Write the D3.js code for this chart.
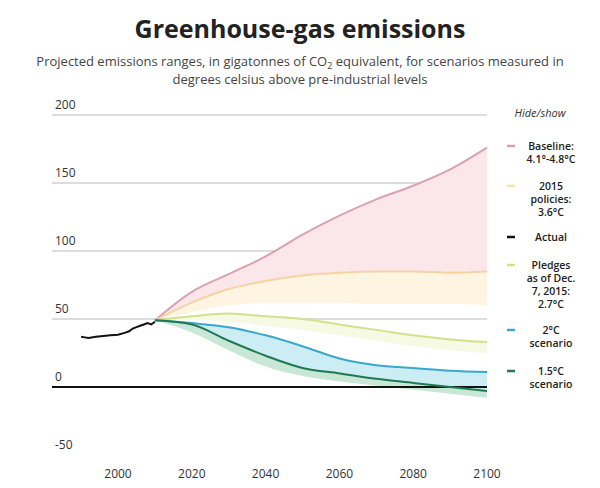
<!DOCTYPE html>
<html><head><meta charset="utf-8">
<script src="https://cdn.jsdelivr.net/npm/d3@7"></script>
<style>
body{margin:0;background:#fff;font-family:"Open Sans",sans-serif;}
</style></head><body>
<svg id="chart" width="600" height="488"></svg>
<script>
// data
const yearsProj = [2010, 2020, 2030, 2040, 2050, 2060, 2070, 2080, 2090, 2100];
const baseline     = [49, 70, 83, 96, 112, 126, 138, 148, 160, 176];
const policies     = [49, 62, 72, 78, 82, 84, 85, 85, 84, 85];
const policiesLow  = [49, 55, 60, 62, 62, 62, 61, 61, 61, 60];
const pledges      = [49, 52, 54, 52, 50, 46, 42, 38, 35, 33];
const pledgesLow   = [49, 49, 48, 45, 42, 38, 34, 30, 27, 25];
const twoDeg       = [49, 47, 44, 38, 30, 21, 16, 14, 12, 11];
const onePointFive = [49, 46, 34, 23, 14, 10, 6, 3, 0, -3];
const onePointFiveLow = [49, 40, 27, 15, 8, 4, 1, -2, -5, -8];
const actualYears  = [1990, 1991, 1992, 1994, 1996, 1998, 2000, 2002, 2003, 2004, 2005, 2006, 2007, 2008, 2009, 2010];
const actual       = [37, 36.5, 36, 37, 37.5, 38, 38.5, 40, 41, 43, 44, 45, 46, 47, 46, 48];
const yTicks = [200, 150, 100, 50, 0, -50];
const xTicks = [2000, 2020, 2040, 2060, 2080, 2100];
const legend = [
  {lines:["Baseline:","4.1°-4.8°C"], color:"#d7a3b4"},
  {lines:["2015","policies:","3.6°C"], color:"#f4e2a6"},
  {lines:["Actual"], color:"#111"},
  {lines:["Pledges","as of Dec.","7, 2015:","2.7°C"], color:"#d4e08a"},
  {lines:["2°C","scenario"], color:"#3aa8cc"},
  {lines:["1.5°C","scenario"], color:"#1f7a52"}
];

const svg = d3.select("#chart");
const x = d3.scaleLinear().domain([2000, 2100]).range([118, 487]);
const y = d3.scaleLinear().domain([0, 200]).range([387, 115]);

svg.append("text").attr("x", 300).attr("y", 38).attr("text-anchor", "middle")
  .attr("font-size", 25).attr("font-weight", 700).attr("fill", "#222").text("Greenhouse-gas emissions");
const sub = svg.append("text").attr("text-anchor", "middle").attr("font-size", 13).attr("fill", "#444");
const s1 = sub.append("tspan").attr("x", 300).attr("y", 66);
s1.append("tspan").text("Projected emissions ranges, in gigatonnes of CO");
s1.append("tspan").attr("font-size", 9).attr("dy", 3).text("2");
s1.append("tspan").attr("dy", -3).text(" equivalent, for scenarios measured in");
sub.append("tspan").attr("x", 300).attr("y", 84).text("degrees celsius above pre-industrial levels");

// grid
yTicks.forEach(t => {
  if (t !== 0 && t !== -50) svg.append("line").attr("x1", 52).attr("x2", 487).attr("y1", y(t)).attr("y2", y(t)).attr("stroke", "#bbb");
  svg.append("text").attr("x", 55).attr("y", y(t) - 6).attr("font-size", 12).attr("fill", "#333").text(t);
});
xTicks.forEach(t => svg.append("text").attr("x", x(t)).attr("y", 478).attr("text-anchor", "middle")
  .attr("font-size", 12).attr("fill", "#333").text(t));

const area = (hi, lo) => d3.area().x((d, i) => x(yearsProj[i])).y0((d, i) => y(lo[i])).y1(d => y(d)).curve(d3.curveMonotoneX)(hi);
const line = (vals) => d3.line().x((d, i) => x(yearsProj[i])).y(d => y(d)).curve(d3.curveMonotoneX)(vals);

svg.append("path").attr("d", area(baseline, policies)).attr("fill", "#fbe6ea");
svg.append("path").attr("d", area(policies, policiesLow)).attr("fill", "#fdf5e2");
svg.append("path").attr("d", area(pledges, pledgesLow)).attr("fill", "#f6f9e4");
svg.append("path").attr("d", area(twoDeg, onePointFive)).attr("fill", "#cdedf5");
svg.append("path").attr("d", area(onePointFive, onePointFiveLow)).attr("fill", "#c8e7d6");

svg.append("line").attr("x1", 52).attr("x2", 487).attr("y1", y(0)).attr("y2", y(0)).attr("stroke", "#111").attr("stroke-width", 2);

[[baseline, "#d7a3b4"], [policies, "#f5d3a3"], [pledges, "#d4e08a"], [twoDeg, "#3aa8cc"], [onePointFive, "#1f7a52"]]
  .forEach(([v, c]) => svg.append("path").attr("d", line(v)).attr("fill", "none").attr("stroke", c).attr("stroke-width", 2));

svg.append("path").attr("d", d3.line().x((d, i) => x(actualYears[i])).y(d => y(d))(actual))
  .attr("fill", "none").attr("stroke", "#111").attr("stroke-width", 2);

// legend
svg.append("text").attr("x", 540).attr("y", 117).attr("text-anchor", "middle").attr("font-size", 11)
  .attr("font-style", "italic").attr("fill", "#333").text("Hide/show");
const legTops = [150, 190, 241, 269, 334, 375];
legend.forEach((l, i) => {
  const top = legTops[i];
  svg.append("line").attr("x1", 507).attr("x2", 515).attr("y1", top - 4).attr("y2", top - 4)
    .attr("stroke", l.color).attr("stroke-width", 2.5);
  l.lines.forEach((s, j) => svg.append("text").attr("x", 551).attr("y", top + j * 13)
    .attr("text-anchor", "middle").attr("font-size", 10.5).attr("font-weight", 600).attr("fill", "#222").text(s));
});
</script>
</body></html>
